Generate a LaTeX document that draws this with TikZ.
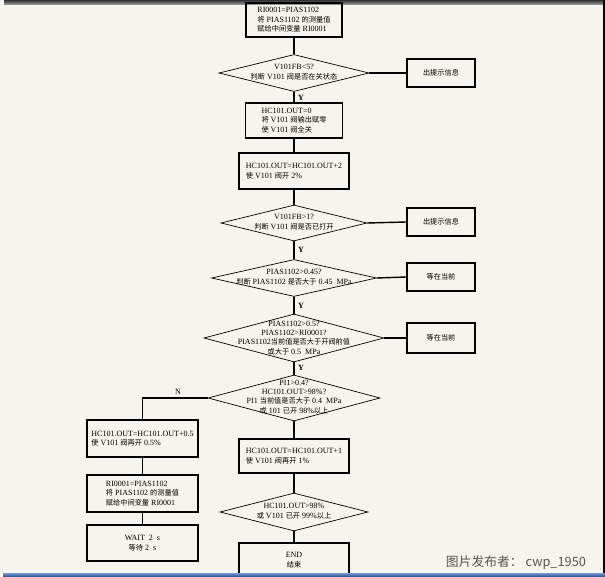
\documentclass[tikz,border=0pt]{standalone}
\usepackage{fontspec}
\setmainfont{Liberation Serif}
\newfontfamily\cjkfont{Noto Sans CJK SC}
\newcommand\zhs[1]{{\cjkfont\fontsize{7.2}{10}\selectfont #1}}
\definecolor{bgbeige}{HTML}{F6F4EE}
\definecolor{barblue}{HTML}{2C5CB2}
\definecolor{wmgray}{HTML}{555555}
\tikzset{
  procbox/.style={draw=black, line width=1.4pt, inner sep=0pt, align=left,
    font=\fontsize{8}{9.6}\selectfont},
  sidebox/.style={draw=black, line width=1.4pt, inner sep=0pt, align=center,
    minimum width=68pt, minimum height=28pt, font=\fontsize{8}{10}\selectfont},
  dia/.style={draw=black, line width=0.7pt, shape=diamond, inner sep=0pt},
  dtext/.style={inner sep=0pt, align=center, font=\fontsize{8}{9.6}\selectfont},
  conn/.style={line width=1.4pt},
  ylab/.style={inner sep=0pt, font=\fontsize{8}{10}\selectfont\bfseries},
}
\usetikzlibrary{shapes.geometric}
\begin{document}
\begin{tikzpicture}[x=1pt,y=-1pt]
\fill[bgbeige] (0,0) rectangle (605,577);
\useasboundingbox (0,0) rectangle (605,577);
% top bar and right border
\shade[top color=black!80, bottom color=black!35] (4,0) rectangle (605,5);
\fill[black] (602.6,0) rectangle (605,574);

% main column
\node[procbox, minimum width=96pt, minimum height=34pt] (b1) at (294,20)
  {RI0001=PIAS1102\\\zhs{将} PIAS1102 \zhs{的测量值}\\\zhs{赋给中间变量} RI0001};
\node[dia, minimum width=150pt, minimum height=37pt] (d1) at (294,73) {};
\node[dtext] (t1) at (294,72) {V101FB<5?\\ \zhs{判断} V101 \zhs{阀是否在关状态}};
\node[sidebox] (m1) at (441,73) {\zhs{出提示信息}};

\node[procbox, minimum width=97pt, minimum height=35pt] (b2) at (294,120.5)
  {HC101.OUT=0\\\zhs{将} V101 \zhs{阀输出赋零}\\\zhs{使} V101 \zhs{阀全关}};
\node[procbox, minimum width=110pt, minimum height=36pt] (b3) at (294,171)
  {HC101.OUT=HC101.OUT+2\\\zhs{使} V101 \zhs{阀开} 2\%};

\node[dia, minimum width=146pt, minimum height=36pt] (d2) at (294,223) {};
\node[dtext] (t2) at (294,222) {V101FB>1?\\ \zhs{判断} V101 \zhs{阀是否已打开}};
\node[sidebox] (m2) at (441,222) {\zhs{出提示信息}};

\node[dia, minimum width=165pt, minimum height=37pt] (d3) at (294,278) {};
\node[dtext] (t3) at (294,277) {PIAS1102>0.45?\\ \zhs{判断} PIAS1102 \zhs{是否大于} 0.45~ MPa};
\node[sidebox] (m3) at (441,277) {\zhs{等在当前}};

\node[dia, minimum width=180pt, minimum height=48pt] (d4) at (294,338) {};
\node[dtext, font=\fontsize{8}{9.2}\selectfont] (t4) at (294,338)
  {PIAS1102>0.5?\\ PIAS1102>RI0001?\\ PIAS1102\zhs{当前值是否大于开阀前值}\\ \zhs{或大于} 0.5~ MPa};
\node[sidebox, minimum height=30pt] (m4) at (441,338) {\zhs{等在当前}};

\node[dia, minimum width=172pt, minimum height=46pt] (d5) at (294,398) {};
\node[dtext, font=\fontsize{8}{9.2}\selectfont] (t5) at (294,397)
  {PI1>0.4?\\ HC101.OUT>98\%?\\ PI1 \zhs{当前值是否大于} 0.4~ MPa\\ \zhs{或} 101 \zhs{已开} 98\%\zhs{以上}};

\node[procbox, minimum width=110pt, minimum height=34pt] (bD) at (294,456)
  {HC101.OUT=HC101.OUT+1\\\zhs{使} V101 \zhs{阀再开} 1\%};
\node[dia, minimum width=148pt, minimum height=38pt] (d6) at (294,512) {};
\node[dtext] (t6) at (294,511) {HC101.OUT>98\%\\ \zhs{或} V101 \zhs{已开} 99\%\zhs{以上}};
\node[procbox, align=center, minimum width=110pt, minimum height=34pt] (e) at (294,560)
  {END\\ \zhs{结束}};

% left column
\node[procbox, minimum width=111pt, minimum height=37pt] (bA) at (142.5,438.5)
  {HC101.OUT=HC101.OUT+0.5\\\zhs{使} V101 \zhs{阀再开} 0.5\%};
\node[procbox, minimum width=111pt, minimum height=37pt] (bB) at (142.5,493.5)
  {RI0001=PIAS1102\\\zhs{将} PIAS1102 \zhs{的测量值}\\\zhs{赋给中间变量} RI0001};
\node[procbox, align=center, minimum width=111pt, minimum height=36pt] (bC) at (142.5,543)
  {WAIT~ 2~ s\\ \zhs{等待} 2~ s};

% connectors
\draw[conn] (b1.south) -- (d1.north);
\draw[conn] (d1.south) -- (b2.north);
\draw[conn] (b2.south) -- (b3.north);
\draw[conn] (b3.south) -- (d2.north);
\draw[conn] (d2.south) -- (d3.north);
\draw[conn] (d3.south) -- (d4.north);
\draw[conn] (d4.south) -- (d5.north);
\draw[conn] (d5.south) -- (bD.north);
\draw[conn] (bD.south) -- (d6.north);
\draw[conn] (d6.south) -- (e.north);
\draw[conn] (d1.east) -- (m1.west);
\draw[conn] (d2.east) -- (m2.west);
\draw[conn] (d3.east) -- (m3.west);
\draw[conn] (d4.east) -- (m4.west);
\draw[conn] (d5.west) -| (bA.north);
\draw[conn] (bA.south) -- (bB.north);
\draw[conn] (bB.south) -- (bC.north);

% labels
\node[ylab] (y1) at (301,97.5) {Y};
\node[ylab] (y2) at (301,250) {Y};
\node[ylab] (y3) at (301,306) {Y};
\node[ylab] (y4) at (301,368) {Y};
\node[inner sep=0pt, font=\fontsize{8}{10}\selectfont] (n1) at (178,392) {N};

% bottom bar and watermark
\shade[top color=barblue!70!white, bottom color=barblue!80!black] (3,573.5) rectangle (605,577);
\node[inner sep=0pt, text=wmgray, font=\cjkfont\fontsize{12.8}{14}\selectfont] (wm) at (516,563)
  {图片发布者： cwp\_1950};
\end{tikzpicture}
\end{document}
